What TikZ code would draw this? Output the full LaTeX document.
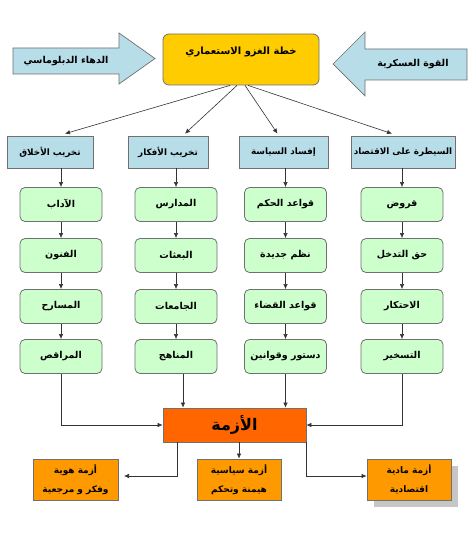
\documentclass[tikz,border=0pt]{standalone}
\usepackage{fontspec}
\usetikzlibrary{arrows.meta}
\TeXXeTstate=1
\newfontfamily\arabicfont[Script=Arabic]{DejaVu Sans}
\newcommand{\artxt}[1]{{\arabicfont\bfseries\beginR #1\endR}}
\definecolor{cyel}{HTML}{FFCC00}
\definecolor{cblue}{HTML}{B7DDE8}
\definecolor{cgreen}{HTML}{CCFFCC}
\definecolor{cred}{HTML}{FF6600}
\definecolor{corange}{HTML}{FF9900}
\definecolor{cborder}{HTML}{707070}
\tikzset{
  bluebox/.style={draw=cborder, fill=cblue, line width=0.7pt, minimum height=32pt, inner sep=1pt, font=\fontsize{8.8}{10}\selectfont},
  greenbox/.style={draw=cborder, fill=cgreen, line width=0.8pt, rounded corners=5pt, minimum width=82pt, minimum height=34pt, inner sep=1pt, font=\fontsize{9.5}{11}\selectfont},
  orbox/.style={draw=cborder, fill=corange, line width=0.8pt, minimum width=85pt, minimum height=41pt, inner sep=1pt, align=center, font=\fontsize{9}{19}\selectfont},
  arr/.style={draw=black!80, line width=0.6pt, -{Latex[length=5pt,width=4.5pt]}},
  blockarrow/.style={draw=cborder, fill=cblue, line width=0.7pt},
}
\begin{document}
\begin{tikzpicture}[x=1pt,y=-1pt]
\useasboundingbox (0,0) rectangle (470,545);
\fill[white] (0,0) rectangle (470,545);

% block arrows
\draw[blockarrow] (13,48) -- (119,48) -- (119,33) -- (155,58.5) -- (119,84) -- (119,74) -- (13,74) -- cycle;
\node[font=\fontsize{9.5}{11}\selectfont] (dip) at (66,61) {\artxt{الدهاء الدبلوماسي}};
\draw[blockarrow] (467,49) -- (365,49) -- (365,32) -- (333,64) -- (365,96) -- (365,80) -- (467,80) -- cycle;
\node[font=\fontsize{9.5}{11}\selectfont] (mil) at (413,64) {\artxt{القوة العسكرية}};

% top box
\node[draw=cborder, fill=cyel, line width=0.8pt, rounded corners=6pt, minimum width=156pt, minimum height=51pt] (top) at (241,59.5) {};
\node[font=\fontsize{10}{12}\selectfont] (toptxt) at (241,52) {\artxt{خطة الغزو الاستعماري}};

% blue boxes
\node[bluebox, minimum width=86pt] (b1) at (50,152) {\artxt{تخريب الأخلاق}};
\node[bluebox, minimum width=80pt] (b2) at (168,152) {\artxt{تخريب الأفكار}};
\node[bluebox, minimum width=89pt] (b3) at (283.5,152) {\artxt{إفساد السياسة}};
\node[bluebox, minimum width=104pt] (b4) at (403,152) {\artxt{السيطرة على الاقتصاد}};

\draw[arr] ([xshift=-11pt]top.south) -- ([xshift=15pt,yshift=2pt]b1.north);
\draw[arr] ([xshift=-4pt]top.south) -- ([xshift=17pt,yshift=2pt]b2.north);
\draw[arr] ([xshift=4pt]top.south) -- ([xshift=-6pt,yshift=2pt]b3.north);
\draw[arr] ([xshift=7pt]top.south) -- ([xshift=-11pt,yshift=2pt]b4.north);

% green columns
\node[greenbox] (g11) at (61,204.5) {\artxt{الآداب}};
\node[greenbox] (g21) at (61,255.5) {\artxt{الفنون}};
\node[greenbox] (g31) at (61,306.5) {\artxt{المسارح}};
\node[greenbox] (g41) at (61,356.5) {\artxt{المراقص}};

\node[greenbox] (g12) at (176,204.5) {\artxt{المدارس}};
\node[greenbox] (g22) at (176,255.5) {\artxt{البعثات}};
\node[greenbox] (g32) at (176,306.5) {\artxt{الجامعات}};
\node[greenbox] (g42) at (176,356.5) {\artxt{المناهج}};

\node[greenbox] (g13) at (285.5,204.5) {\artxt{قواعد الحكم}};
\node[greenbox] (g23) at (285.5,255.5) {\artxt{نظم جديدة}};
\node[greenbox] (g33) at (285.5,306.5) {\artxt{قواعد القضاء}};
\node[greenbox] (g43) at (285.5,356.5) {\artxt{دستور وقوانين}};

\node[greenbox] (g14) at (402,204.5) {\artxt{قروض}};
\node[greenbox] (g24) at (402,255.5) {\artxt{حق التدخل}};
\node[greenbox] (g34) at (402,306.5) {\artxt{الاحتكار}};
\node[greenbox] (g44) at (402,356.5) {\artxt{التسخير}};

\foreach \c in {1,2,3,4}{
  \draw[arr] (g1\c.north |- b\c.south) -- (g1\c.north);
  \draw[arr] (g1\c) -- (g2\c);
  \draw[arr] (g2\c) -- (g3\c);
  \draw[arr] (g3\c) -- (g4\c);
}

% crisis box
\node[draw=cborder, fill=cred, line width=0.8pt, minimum width=143pt, minimum height=34pt, font=\fontsize{16}{18}\selectfont] (crisis) at (234.5,425) {\artxt{الأزمة}};

\draw[arr] (g41.south) |- (crisis.west);
\draw[arr] (g44.south) |- (crisis.east);
\draw[arr] ([xshift=7pt]g42.south) -- ([xshift=7pt]g42.south |- crisis.north);
\draw[arr] (g43.south) -- (g43.south |- crisis.north);

% bottom boxes
\fill[gray!45] (374,466) rectangle (458,507);
\node[orbox] (lb) at (75.5,479.5) {\artxt{أزمة هوية}\\\artxt{وفكر و مرجعية}};
\node[orbox, minimum width=84pt] (mb) at (239,479.5) {\artxt{أزمة سياسية}\\\artxt{هيمنة وتحكم}};
\node[orbox, minimum width=84pt] (rb) at (409,479.5) {\artxt{أزمة مادية}\\\artxt{اقتصادية}};

\coordinate (lend) at (124,476);
\draw[arr] ([xshift=-57.5pt]crisis.south) |- (lend);
\draw[arr] (mb.north |- crisis.south) -- (mb.north);
\draw[arr] (crisis.south east) |- ([yshift=3.5pt]rb.west);
\end{tikzpicture}
\end{document}
